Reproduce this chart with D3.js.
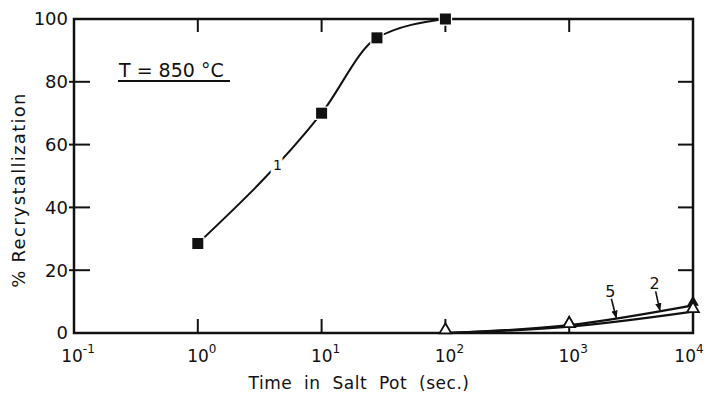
<!DOCTYPE html>
<html>
<head>
<meta charset="utf-8">
<script src="https://cdn.jsdelivr.net/npm/d3@7"></script>
<style>
  body { margin: 0; background: #fff; }
  text { font-family: "DejaVu Sans", sans-serif; fill: #111; }
</style>
</head>
<body>
<svg></svg>
<script>
// curve 1 (filled squares)
const times1 = [1, 10, 28, 100];
const recryst1 = [28.5, 70, 94, 100];
// curve 5 (filled triangles) and curve 2 (open triangles)
const times52 = [100, 1000, 10000];
const recryst5 = [0, 2.5, 8.8];
const recryst2 = [0, 2, 6.8];

const xTickValues = [0.1, 1, 10, 100, 1000, 10000];
const xTickExp = ["-1", "0", "1", "2", "3", "4"];
const yTickValues = [0, 20, 40, 60, 80, 100];

const width = 708;
const height = 394;
const margin = { top: 19, right: 15, bottom: 61, left: 74 };

const svg = d3.select("svg").attr("width", width).attr("height", height);

const x = d3.scaleLog().domain([0.1, 10000]).range([margin.left, width - margin.right]);
const y = d3.scaleLinear().domain([0, 100]).range([height - margin.bottom, margin.top]);

// frame
svg.append("rect")
  .attr("x", x(0.1)).attr("y", y(100))
  .attr("width", x(10000) - x(0.1)).attr("height", y(0) - y(100))
  .attr("fill", "none").attr("stroke", "#111").attr("stroke-width", 2.5);

// inner ticks
const inner = xTickValues.slice(1, -1);
svg.append("g").selectAll("line").data(inner).join("line")
  .attr("x1", d => x(d)).attr("x2", d => x(d))
  .attr("y1", y(0)).attr("y2", y(0) - 14)
  .attr("stroke", "#111").attr("stroke-width", 2);
svg.append("g").selectAll("line").data(inner).join("line")
  .attr("x1", d => x(d)).attr("x2", d => x(d))
  .attr("y1", y(100)).attr("y2", y(100) + 13)
  .attr("stroke", "#111").attr("stroke-width", 2);

const yInner = yTickValues.slice(1, -1);
svg.append("g").selectAll("line").data(yInner).join("line")
  .attr("x1", x(0.1) - 5).attr("x2", x(0.1) + 16)
  .attr("y1", d => y(d)).attr("y2", d => y(d))
  .attr("stroke", "#111").attr("stroke-width", 2);
svg.append("g").selectAll("line").data(yInner).join("line")
  .attr("x1", x(10000)).attr("x2", x(10000) - 15)
  .attr("y1", d => y(d)).attr("y2", d => y(d))
  .attr("stroke", "#111").attr("stroke-width", 2);

// y tick labels
svg.append("g").selectAll("text").data(yTickValues).join("text")
  .attr("x", x(0.1) - 6)
  .attr("y", d => y(d))
  .attr("dy", "0.36em")
  .attr("text-anchor", "end")
  .attr("font-size", 18)
  .text(d => d);

// x tick labels 10^n
const xl = svg.append("g").selectAll("text").data(xTickValues).join("text")
  .attr("x", (d, i) => x(d) + (i === xTickValues.length - 1 ? -4 : 4))
  .attr("y", y(0) + 29)
  .attr("text-anchor", "middle")
  .attr("font-size", 17);
xl.append("tspan").text("10");
xl.append("tspan")
  .attr("dy", -9)
  .attr("font-size", 12)
  .text((d, i) => xTickExp[i]);

// axis titles
svg.append("text")
  .attr("x", 359)
  .attr("y", 389)
  .attr("text-anchor", "middle")
  .attr("font-size", 17)
  .attr("word-spacing", 6)
  .attr("letter-spacing", 0.5)
  .text("Time in Salt Pot  (sec.)");

svg.append("text")
  .attr("transform", "translate(25, 190) rotate(-90)")
  .attr("text-anchor", "middle")
  .attr("font-size", 18)
  .attr("letter-spacing", 1.3)
  .text("% Recrystallization");

// temperature label
svg.append("text")
  .attr("x", 119).attr("y", 77)
  .attr("font-size", 19)
  .text("T = 850 °C");
svg.append("line")
  .attr("x1", 118).attr("x2", 230)
  .attr("y1", 81).attr("y2", 81)
  .attr("stroke", "#111").attr("stroke-width", 2);

// curves
const line = d3.line().curve(d3.curveMonotoneX).x(d => x(d[0])).y(d => y(d[1]));

const pts1 = times1.map((t, i) => [t, recryst1[i]]);
const pts5 = times52.map((t, i) => [t, recryst5[i]]);
const pts2 = times52.map((t, i) => [t, recryst2[i]]);

const p1 = svg.append("path").datum(pts1).attr("d", line)
  .attr("fill", "none").attr("stroke", "#111").attr("stroke-width", 2);
const p5 = svg.append("path").datum(pts5).attr("d", line)
  .attr("fill", "none").attr("stroke", "#111").attr("stroke-width", 2.2);
svg.append("path").datum(pts2).attr("d", line)
  .attr("fill", "none").attr("stroke", "#111").attr("stroke-width", 2.2);

// find the point of a path at a given pixel x
const pointAtX = (path, px) => {
  const node = path.node();
  let lo = 0, hi = node.getTotalLength();
  for (let k = 0; k < 40; k++) {
    const mid = (lo + hi) / 2;
    if (node.getPointAtLength(mid).x < px) lo = mid; else hi = mid;
  }
  return node.getPointAtLength(lo);
};

// curve label "1" with gap in line
const lab1 = pointAtX(p1, x(4.4));
svg.append("text")
  .attr("x", lab1.x).attr("y", lab1.y)
  .attr("dy", "0.36em")
  .attr("text-anchor", "middle")
  .attr("font-size", 14)
  .attr("stroke", "#fff").attr("stroke-width", 8)
  .attr("paint-order", "stroke")
  .text("1");

// markers
svg.append("g").selectAll("rect").data(pts1).join("rect")
  .attr("x", d => x(d[0]) - 5.5).attr("y", d => y(d[1]) - 5.5)
  .attr("width", 11).attr("height", 11)
  .attr("fill", "#111").attr("stroke", "#fff").attr("stroke-width", 2.5)
  .attr("paint-order", "stroke");

const tri = d3.symbol().type(d3.symbolTriangle).size(60);
svg.append("g").selectAll("path").data(pts5).join("path")
  .attr("d", tri)
  .attr("transform", d => `translate(${x(d[0])},${y(d[1]) - 3})`)
  .attr("fill", "#111");
svg.append("g").selectAll("path").data(pts2).join("path")
  .attr("d", tri)
  .attr("transform", d => `translate(${x(d[0])},${y(d[1]) - 3})`)
  .attr("fill", "#fff").attr("stroke", "#111").attr("stroke-width", 1.8);

// arrow labels "5" and "2"
svg.append("defs").append("marker")
  .attr("id", "arrow").attr("viewBox", "0 0 10 10")
  .attr("refX", 9).attr("refY", 5)
  .attr("markerWidth", 5).attr("markerHeight", 5)
  .attr("orient", "auto")
  .append("path").attr("d", "M0,1 L10,5 L0,9 Z").attr("fill", "#111");

const arrowLabels = [
  { text: "5", t: 2150, tip: 2400 },
  { text: "2", t: 4900, tip: 5400 }
];
arrowLabels.forEach(a => {
  const tip = pointAtX(p5, x(a.tip));
  svg.append("text")
    .attr("x", x(a.t)).attr("y", tip.y - 22)
    .attr("text-anchor", "middle")
    .attr("font-size", 16)
    .text(a.text);
  svg.append("line")
    .attr("x1", x(a.t) + 1).attr("y1", tip.y - 20)
    .attr("x2", tip.x).attr("y2", tip.y - 1)
    .attr("stroke", "#111").attr("stroke-width", 1.6)
    .attr("marker-end", "url(#arrow)");
});
</script>
</body>
</html>
